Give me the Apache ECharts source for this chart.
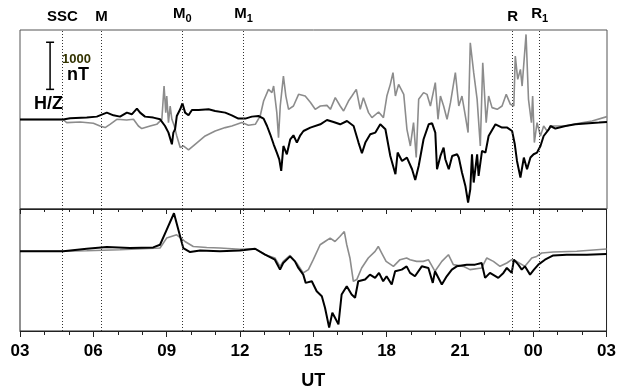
<!DOCTYPE html>
<html>
<head>
<meta charset="utf-8">
<script src="https://cdn.jsdelivr.net/npm/echarts@6/dist/echarts.min.js"></script>
<style>
  html, body { margin: 0; padding: 0; background: #fff; }
  #chart { width: 619px; height: 391px; }
</style>
</head>
<body>
<div id="chart"></div>
<script>
// time in hours UT (03 -> 27 = next day 03), values in nT
var hTicks = [3, 6, 9, 12, 15, 18, 21, 24, 27];

var eventNames = ['SSC', 'M', 'M0', 'M1', 'R', 'R1'];
var eventHours = [4.73, 6.33, 9.64, 12.14, 23.14, 24.25];

// scale bar: hour, low, high (1000 nT)
var scaleBar = [4.23, 640, 1640];

// upper panel, black trace
var topBlack = [
  [3.00,0],[4.76,0],[5.05,25],[5.73,40],[6.14,61],[6.55,146],[6.82,89],[7.09,61],[7.37,146],
  [7.57,110],[7.78,231],[7.91,146],[8.11,61],[8.45,40],[8.73,4],[8.93,-138],[9.07,-278],
  [9.21,-526],[9.27,-278],[9.34,-208],[9.41,74],[9.55,216],[9.64,343],[9.75,146],[9.89,89],
  [10.03,201],[10.30,201],[10.71,216],[10.98,180],[11.39,146],[11.66,89],[11.93,19],[12.21,19],
  [12.48,61],[12.75,74],[12.96,19],[13.10,-138],[13.23,-314],[13.37,-526],[13.50,-702],
  [13.60,-846],[13.68,-1092],[13.77,-562],[13.91,-738],[14.05,-420],[14.18,-335],[14.32,-490],
  [14.46,-335],[14.59,-244],[14.87,-172],[15.28,-102],[15.55,-11],[15.82,-53],[16.09,-102],
  [16.37,-32],[16.64,-138],[16.84,-490],[16.98,-717],[17.12,-490],[17.32,-314],[17.53,-278],
  [17.73,-102],[17.94,-208],[18.14,-774],[18.35,-1162],[18.44,-702],[18.62,-880],[18.82,-808],
  [19.03,-1056],[19.16,-1283],[19.30,-986],[19.50,-420],[19.71,-102],[19.85,-81],[19.98,-278],
  [20.05,-1056],[20.19,-774],[20.32,-596],[20.39,-844],[20.53,-1056],[20.67,-774],[20.87,-738],
  [20.94,-808],[21.07,-1126],[21.21,-1410],[21.32,-1762],[21.41,-1480],[21.48,-738],[21.55,-1338],
  [21.69,-738],[21.75,-1198],[21.89,-668],[22.03,-702],[22.16,-350],[22.44,-102],[22.71,-172],
  [22.92,-172],[23.12,-244],[23.23,-526],[23.32,-880],[23.46,-1232],[23.60,-808],[23.73,-1056],
  [23.87,-808],[24.00,-738],[24.14,-702],[24.28,-562],[24.41,-350],[24.62,-208],[24.69,-138],
  [24.89,-193],[25.30,-138],[25.71,-102],[26.26,-81],[26.67,-66],[27.00,-53]
];

// upper panel, grey trace
var topGrey = [
  [3.00,0],[4.76,0],[4.91,-66],[5.46,-53],[6.00,-81],[6.27,-138],[6.48,-172],[6.68,-102],
  [6.96,4],[7.36,-11],[7.64,4],[7.84,-138],[7.98,-193],[8.32,-138],[8.59,-102],[8.80,4],
  [8.89,710],[8.96,146],[9.00,498],[9.07,-66],[9.14,286],[9.21,4],[9.31,-138],[9.41,-350],
  [9.55,-596],[9.68,-562],[9.89,-647],[10.16,-526],[10.57,-350],[10.98,-244],[11.39,-172],
  [11.66,-138],[12.07,-66],[12.34,-123],[12.62,-102],[12.82,74],[12.96,392],[13.16,640],
  [13.30,570],[13.37,710],[13.50,146],[13.57,-384],[13.64,286],[13.77,922],[13.87,498],
  [13.98,216],[14.18,286],[14.39,534],[14.66,498],[14.87,365],[15.07,216],[15.28,286],
  [15.55,300],[15.69,216],[15.89,464],[16.09,286],[16.23,180],[16.43,392],[16.57,498],
  [16.75,640],[16.91,216],[17.04,464],[17.25,146],[17.39,40],[17.66,159],[17.86,40],
  [18.00,498],[18.14,746],[18.25,994],[18.35,498],[18.48,746],[18.69,534],[18.82,-208],
  [18.96,-562],[19.09,-66],[19.20,-808],[19.30,428],[19.50,570],[19.64,534],[19.78,286],
  [19.98,782],[20.09,4],[20.19,498],[20.32,286],[20.46,4],[20.60,358],[20.80,994],[20.94,286],
  [21.07,498],[21.21,74],[21.32,-278],[21.41,1630],[21.55,994],[21.69,428],[21.82,-562],
  [21.92,1206],[22.06,-66],[22.16,498],[22.30,252],[22.51,216],[22.71,286],[22.88,534],
  [23.05,322],[23.19,286],[23.25,1346],[23.35,852],[23.46,1064],[23.53,710],[23.69,1806],
  [23.79,428],[23.91,-66],[23.96,498],[24.03,-490],[24.14,-66],[24.28,-350],[24.41,-138],
  [24.55,-244],[24.76,-138],[25.30,-138],[25.85,-81],[26.39,-32],[27.00,61]
];

// lower panel, black trace
var lowBlack = [
  [3.00,0],[4.77,0],[5.73,53],[6.55,89],[7.50,68],[8.45,81],[8.73,138],[9.00,456],[9.30,810],
  [9.48,456],[9.68,68],[9.96,-17],[10.37,17],[11.18,0],[12.00,17],[12.62,53],[13.03,-74],
  [13.43,-180],[13.64,-392],[13.77,-250],[14.05,-110],[14.25,-216],[14.39,-356],[14.59,-498],
  [14.69,-674],[14.94,-640],[15.14,-852],[15.35,-958],[15.48,-1204],[15.65,-1628],[15.78,-1310],
  [15.89,-1416],[16.03,-1558],[16.16,-922],[16.37,-746],[16.57,-922],[16.71,-992],[16.84,-640],
  [17.12,-604],[17.32,-498],[17.53,-568],[17.69,-462],[17.86,-640],[18.00,-534],[18.21,-710],
  [18.35,-428],[18.62,-392],[18.82,-322],[18.96,-462],[19.16,-534],[19.44,-322],[19.71,-356],
  [19.89,-674],[19.98,-428],[20.26,-710],[20.46,-534],[20.67,-392],[20.87,-322],[21.28,-286],
  [21.62,-286],[21.89,-250],[22.03,-568],[22.23,-462],[22.57,-568],[22.78,-462],[22.92,-356],
  [23.12,-462],[23.21,-180],[23.39,-286],[23.53,-392],[23.66,-322],[23.87,-498],[24.03,-392],
  [24.21,-286],[24.48,-180],[24.82,-89],[25.37,-74],[26.19,-74],[27.00,-59]
];

// lower panel, grey trace
var lowGrey = [
  [3.00,0],[4.77,0],[5.73,11],[7.09,32],[8.73,68],[9.00,280],[9.41,350],[9.75,208],[10.09,102],
  [10.64,81],[11.18,68],[12.00,42],[12.62,53],[13.03,-74],[13.43,-144],[13.64,-322],[13.77,-216],
  [14.05,-89],[14.32,-250],[14.59,-462],[14.80,-392],[15.00,-180],[15.28,138],[15.48,208],
  [15.69,280],[15.89,208],[16.09,314],[16.27,420],[16.37,138],[16.50,-144],[16.64,-640],
  [16.78,-604],[16.98,-356],[17.25,-144],[17.53,-4],[17.66,102],[17.80,-38],[17.98,-216],
  [18.28,-322],[18.55,-180],[18.82,-144],[18.96,-180],[19.23,-216],[19.50,-216],[19.71,-180],
  [19.98,-428],[20.26,-216],[20.53,-74],[20.73,-286],[21.14,-322],[21.41,-392],[21.89,-356],
  [22.10,-144],[22.37,-216],[22.64,-322],[22.92,-250],[23.12,-180],[23.32,-216],[23.66,-322],
  [23.94,-144],[24.14,-110],[24.35,-38],[24.82,-17],[25.78,0],[27.00,47]
];

var myChart = echarts.init(document.getElementById('chart'));

function hourLabel(v) {
  var h = v % 24;
  return (h < 10 ? '0' : '') + h;
}

var evLines = eventHours.map(function (h, i) {
  var n = eventNames[i];
  var txt = n.length == 2 ? '{a|' + n[0] + '}{s|' + n.slice(1) + '}' : '{a|' + n + '}';
  return { xAxis: h, label: { formatter: txt } };
});
var evLinesPlain = eventHours.map(function (h) { return { xAxis: h }; });

var dotted = { color: '#333', type: [1, 2], width: 1 };
var font = 'Liberation Sans, Arial';

option = {
  animation: false,
  backgroundColor: '#fff',
  grid: [
    { left: 20, right: 12, top: 30, height: 179, show: true, borderColor: '#555', borderWidth: 1 },
    { left: 20, right: 12, top: 209, height: 123, show: true, borderColor: '#222', borderWidth: 1 }
  ],
  xAxis: [
    { gridIndex: 0, type: 'value', min: 3, max: 27, interval: 3, show: false },
    {
      gridIndex: 1, type: 'value', min: 3, max: 27, interval: 3, position: 'bottom',
      axisLine: { onZero: false, lineStyle: { color: '#222' } },
      axisTick: { length: 6, lineStyle: { color: '#222' } },
      minorTick: { show: true, splitNumber: 3, length: 4, lineStyle: { color: '#222' } },
      splitLine: { show: false },
      axisLabel: {
        formatter: hourLabel, margin: 12, color: '#000',
        fontFamily: font, fontWeight: 'bold', fontSize: 17
      },
      name: 'UT', nameLocation: 'middle', nameGap: 41,
      nameTextStyle: { fontFamily: font, fontWeight: 'bold', fontSize: 18, color: '#000' }
    },
    {
      gridIndex: 1, type: 'value', min: 3, max: 27, interval: 3, position: 'top',
      axisLine: { onZero: false, lineStyle: { color: '#222' } },
      axisTick: { inside: true, length: 5, lineStyle: { color: '#222' } },
      minorTick: { show: true, splitNumber: 3, length: 3, lineStyle: { color: '#222' } },
      splitLine: { show: false },
      axisLabel: { show: false }
    }
  ],
  yAxis: [
    { gridIndex: 0, type: 'value', min: -1900, max: 1900, show: false },
    { gridIndex: 1, type: 'value', min: -1700, max: 900, show: false }
  ],
  graphic: [
    { type: 'text', left: 62, top: 53, style: { text: '1000', fontSize: 13, fontWeight: 'bold', fill: '#333300', fontFamily: font } },
    { type: 'text', left: 67, top: 66, style: { text: 'nT', fontSize: 18, fontWeight: 'bold', fill: '#000', fontFamily: font } },
    { type: 'text', left: 34, top: 95, style: { text: 'H/Z', fontSize: 18, fontWeight: 'bold', fill: '#000', fontFamily: font } }
  ],
  series: [
    {
      name: 'Z', type: 'line', xAxisIndex: 0, yAxisIndex: 0, data: topGrey,
      showSymbol: false, lineStyle: { color: '#8c8c8c', width: 1.6 }, z: 2,
      markLine: {
        silent: true, symbol: 'none', lineStyle: dotted,
        label: {
          position: 'end', distance: 6, color: '#000',
          rich: {
            a: { fontFamily: 'Liberation Sans Narrow, Liberation Sans', fontSize: 15, fontWeight: 'bold', color: '#000' },
            s: { fontFamily: 'Liberation Sans Narrow, Liberation Sans', fontSize: 11, fontWeight: 'bold', color: '#000', padding: [9, 0, 0, 0] }
          }
        },
        data: evLines
      }
    },
    {
      name: 'H', type: 'line', xAxisIndex: 0, yAxisIndex: 0, data: topBlack,
      showSymbol: false, lineStyle: { color: '#000', width: 2 }, z: 3
    },
    {
      name: 'Z2', type: 'line', xAxisIndex: 1, yAxisIndex: 1, data: lowGrey,
      showSymbol: false, lineStyle: { color: '#8c8c8c', width: 1.6 }, z: 2,
      markLine: { silent: true, symbol: 'none', lineStyle: dotted, label: { show: false }, data: evLinesPlain }
    },
    {
      name: 'H2', type: 'line', xAxisIndex: 1, yAxisIndex: 1, data: lowBlack,
      showSymbol: false, lineStyle: { color: '#000', width: 2 }, z: 3
    },
    {
      // 1000 nT scale bar
      type: 'custom', xAxisIndex: 0, yAxisIndex: 0, data: [scaleBar], z: 4,
      renderItem: function (params, api) {
        var lo = api.coord([api.value(0), api.value(1)]);
        var hi = api.coord([api.value(0), api.value(2)]);
        var s = { stroke: '#000', lineWidth: 1.5 };
        return {
          type: 'group', children: [
            { type: 'line', shape: { x1: lo[0], y1: lo[1], x2: hi[0], y2: hi[1] }, style: s },
            { type: 'line', shape: { x1: lo[0] - 4, y1: lo[1], x2: lo[0] + 4, y2: lo[1] }, style: s },
            { type: 'line', shape: { x1: hi[0] - 4, y1: hi[1], x2: hi[0] + 4, y2: hi[1] }, style: s }
          ]
        };
      }
    }
  ]
};

myChart.setOption(option);
</script>
</body>
</html>
